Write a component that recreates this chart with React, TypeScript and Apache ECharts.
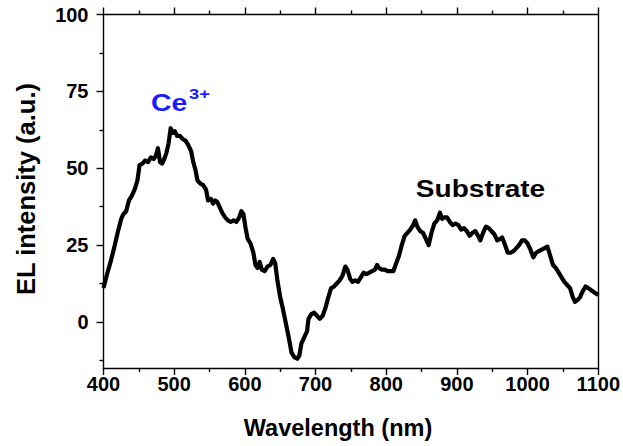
import React, { useEffect, useRef } from "react";
import * as echarts from "echarts";

// Electroluminescence spectrum: wavelength (nm) vs EL intensity (a.u.)
const wavelength = [
  400, 405, 410, 415, 420, 425, 428, 432, 436, 440, 444, 448, 451, 455, 459, 463, 467, 471, 474, 477,
  480, 483, 486, 489, 492, 495, 498, 501, 504, 508, 512, 516, 520, 524, 527, 530, 533, 537, 541, 545,
  548, 552, 555, 558, 561, 564, 568, 572, 576, 580, 584, 588, 592, 595, 598, 601, 604, 608, 612, 615,
  618, 621, 624, 628, 632, 636, 640, 643, 646, 650, 654, 658, 662, 666, 670, 674, 677, 680, 684, 688,
  690, 694, 698, 702, 706, 710, 714, 718, 722, 726, 730, 734, 738, 742, 745, 749, 752, 756, 760, 764,
  768, 772, 776, 780, 784, 787, 790, 794, 798, 802, 806, 810, 814, 818, 822, 826, 830, 834, 838, 841,
  844, 848, 852, 856, 860, 864, 868, 872, 876, 879, 882, 886, 890, 894, 898, 902, 906, 910, 914, 918,
  922, 926, 930, 933, 937, 941, 945, 949, 953, 957, 961, 964, 968, 972, 976, 980, 984, 988, 992, 996,
  1000, 1004, 1008, 1012, 1016, 1020, 1024, 1028, 1032, 1036, 1040, 1044, 1048, 1052, 1056, 1060, 1064,
  1067, 1070, 1074, 1078, 1082, 1086, 1090, 1095, 1100,
];

const intensity = [
  11, 15.5, 19.5, 24, 29, 33.5, 35, 36, 39.5, 41, 43, 46, 51, 51.5, 52.5, 52, 53.5, 53, 54, 56.5,
  52, 51.5, 53, 55, 58, 63, 61.5, 62, 60.5, 60.5, 59.5, 59, 57.5, 55.5, 52, 49.5, 46, 45, 44.5, 43,
  39.5, 40, 38.5, 39.5, 39, 37.5, 35.5, 34, 33, 32.5, 33, 32.5, 34, 36, 35, 30.5, 27, 25.5, 22.5, 18.5,
  17.5, 19.5, 17, 16.5, 18, 18.5, 20.5, 19, 13.5, 8, 4, -0.5, -5, -10, -11.5, -12, -11, -7, -5, -3,
  1, 2.5, 3, 2, 1, 2, 4.5, 8, 11, 11.5, 12.5, 13.5, 15, 18, 17, 14, 13, 13.5, 13, 14.5,
  16, 15.5, 16, 16.5, 17, 18.5, 17.5, 17, 17, 16.5, 16.5, 16.5, 19, 21.5, 25, 28, 29, 30, 31.5, 33,
  31, 29.5, 29, 27, 25, 29, 32, 33, 35.5, 33.5, 34, 34, 32.5, 31.5, 32, 31.5, 30, 30.5, 29.5, 28,
  29, 29.5, 28, 26.5, 29, 31, 30.5, 29.5, 28.5, 26.5, 27, 27.5, 25, 22.5, 22.5, 23, 24, 25, 26.5, 26.5,
  25.5, 23.5, 21, 22.5, 23, 23.5, 24, 24.5, 21.5, 18.5, 17.5, 16, 14.5, 13, 12, 11, 8,
  6.5, 7, 8, 10, 11.5, 11, 10.3, 9.5, 8.7,
];

const yMajorTicks = [0, 25, 50, 75, 100];
const yMinorTicks = [-12.5, 12.5, 37.5, 62.5, 87.5];

const FONT = "Liberation Sans, Arial, Helvetica, sans-serif";
const BLUE = "#1a1aff";

export default function App() {
  const ref = useRef<HTMLDivElement>(null);

  useEffect(() => {
    if (!ref.current) return;
    const chart = echarts.init(ref.current, null, { renderer: "svg" });
    const axisLine = { show: true, onZero: false, lineStyle: { color: "#000", width: 1.4 } };
    const tickLine = { color: "#000", width: 1.4 };
    const labelFont = {
      color: "#000",
      fontFamily: FONT,
      fontWeight: "bold",
      fontSize: 20,
    };

    chart.setOption({
      animation: false,
      backgroundColor: "#fff",
      grid: { left: 103.5, right: 23, top: 14.5, bottom: 78 },
      xAxis: [
        {
          type: "value",
          position: "bottom",
          min: 400,
          max: 1100,
          interval: 100,
          axisLine,
          axisTick: { show: true, length: 7, lineStyle: tickLine },
          minorTick: { show: true, splitNumber: 2, length: 4, lineStyle: tickLine },
          splitLine: { show: false },
          axisLabel: {
            show: true,
            margin: 6,
            showMinLabel: true,
            showMaxLabel: true,
            formatter: (v: number) => String(v),
            ...labelFont,
          },
        },
        {
          type: "value",
          position: "top",
          min: 400,
          max: 1100,
          interval: 100,
          axisLine,
          axisTick: { show: true, length: 7, lineStyle: tickLine },
          minorTick: { show: true, splitNumber: 2, length: 4, lineStyle: tickLine },
          splitLine: { show: false },
          axisLabel: { show: false },
        },
      ],
      yAxis: [
        {
          type: "value",
          position: "left",
          min: -15,
          max: 100,
          axisLine,
          axisTick: { show: true, length: 7, lineStyle: tickLine, customValues: yMajorTicks },
          splitLine: { show: false },
          axisLabel: {
            show: true,
            customValues: yMajorTicks,
            margin: 15,
            ...labelFont,
          },
        },
        {
          type: "value",
          position: "left",
          min: -15,
          max: 100,
          axisLine: { show: false },
          axisTick: { show: true, length: 4, lineStyle: tickLine, customValues: yMinorTicks },
          splitLine: { show: false },
          axisLabel: { show: false },
        },
        {
          type: "value",
          position: "right",
          min: -15,
          max: 100,
          axisLine,
          axisTick: { show: false },
          splitLine: { show: false },
          axisLabel: { show: false },
        },
      ],
      series: [
        {
          type: "line",
          xAxisIndex: 0,
          yAxisIndex: 0,
          data: wavelength.map((w, i) => [w, intensity[i]]),
          showSymbol: false,
          symbol: "none",
          lineStyle: { color: "#000", width: 4.2, join: "round" },
        },
      ],
      graphic: [
        {
          type: "text",
          x: 338,
          y: 428,
          style: {
            text: "Wavelength (nm)",
            fontFamily: FONT,
            fontWeight: "bold",
            fontSize: 23.5,
            fill: "#000",
            align: "center",
            verticalAlign: "middle",
          },
        },
        {
          type: "text",
          x: 26,
          y: 189,
          rotation: Math.PI / 2,
          style: {
            text: "EL intensity (a.u.)",
            fontFamily: FONT,
            fontWeight: "bold",
            fontSize: 25.5,
            fill: "#000",
            align: "center",
            verticalAlign: "middle",
          },
        },
        {
          type: "text",
          x: 151,
          y: 103,
          scaleX: 1.18,
          style: {
            text: "Ce",
            fontFamily: FONT,
            fontWeight: "bold",
            fontSize: 24,
            fill: BLUE,
            align: "left",
            verticalAlign: "middle",
          },
        },
        {
          type: "text",
          x: 189,
          y: 93.5,
          scaleX: 1.18,
          style: {
            text: "3+",
            fontFamily: FONT,
            fontWeight: "bold",
            fontSize: 15.5,
            fill: BLUE,
            align: "left",
            verticalAlign: "middle",
          },
        },
        {
          type: "text",
          x: 480.5,
          y: 188.5,
          scaleX: 1.17,
          style: {
            text: "Substrate",
            fontFamily: FONT,
            fontWeight: "bold",
            fontSize: 24,
            fill: "#000",
            align: "center",
            verticalAlign: "middle",
          },
        },
      ],
    });

    return () => chart.dispose();
  }, []);

  return (
    <div
      ref={ref}
      style={{ position: "absolute", left: 0, top: 0, width: 623, height: 446 }}
    />
  );
}
